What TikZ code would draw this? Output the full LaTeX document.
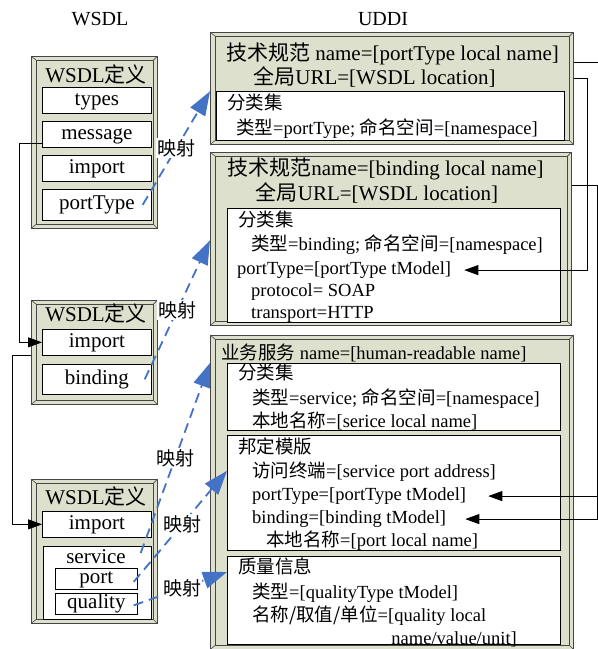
\documentclass[tikz,border=0pt]{standalone}
\usepackage{fontspec}
\setmainfont{Liberation Serif}
\newfontfamily\cjkf{Noto Sans CJK SC}
\newcommand\zh[1]{{\cjkf #1}}
\usetikzlibrary{arrows.meta}
\definecolor{face}{RGB}{221,224,204}
\definecolor{bline}{RGB}{70,70,70}
\definecolor{mapblue}{RGB}{68,114,196}
\begin{document}
\begin{tikzpicture}[x=1pt,y=-1pt,
  bevel/.style={draw=bline, fill=face, line width=0.6pt, inner sep=0pt, anchor=north west,
    path picture={
      \draw[bline, line width=0.6pt]
        ([shift={(5pt,-4pt)}]path picture bounding box.north west) rectangle ([shift={(-4pt,4pt)}]path picture bounding box.south east);
      \draw[bline, line width=0.6pt]
        (path picture bounding box.north west) -- ++(5pt,-4pt)
        (path picture bounding box.north east) -- ++(-4pt,-4pt)
        (path picture bounding box.south west) -- ++(5pt,4pt)
        (path picture bounding box.south east) -- ++(-4pt,4pt);
    }},
  wbox/.style={draw=black, fill=white, line width=0.7pt, inner sep=0pt, anchor=north west},
  lbox/.style={wbox, font=\fontsize{21}{25}\selectfont, text height=1em, text depth=0em},
  hd/.style={anchor=base, inner sep=0pt, yshift=-7.5pt, font=\fontsize{21}{25}\selectfont},
  body/.style={anchor=base west, inner sep=0pt, yshift=-6.5pt, font=\fontsize{18.5}{22}\selectfont},
  conn/.style={draw=black, line width=0.8pt, -{Triangle[length=14pt,width=10pt]}},
  map/.style={draw=mapblue, line width=1.8pt, dash pattern=on 10pt off 6pt, -{Triangle[length=24pt,width=17pt]}},
  lbl/.style={fill=white, inner sep=1pt, text=black, font=\fontsize{19}{22}\selectfont\cjkf}
]
\useasboundingbox (0,0) rectangle (598,649);
\clip (0,0) rectangle (598,649);

% headers
\node[hd, font=\fontsize{20}{24}\selectfont] (hw) at (100,18) {WSDL};
\node[hd, font=\fontsize{20}{24}\selectfont] (hu) at (383,18) {UDDI};

% ---------- WSDL box 1
\node[bevel, minimum width=126pt, minimum height=172pt] (w1) at (31,56) {};
\node[hd] (w1t) at (96,75) {WSDL\zh{定义}};
\node[lbox, minimum width=109pt, minimum height=26pt] (types) at (42,87) {types};
\node[lbox, minimum width=109pt, minimum height=26pt] (msg) at (42,121) {message};
\node[lbox, minimum width=109pt, minimum height=26pt] (imp1) at (42,155) {import};
\node[lbox, minimum width=109pt, minimum height=31pt] (ptype) at (42,189) {portType};

% ---------- WSDL box 2
\node[bevel, minimum width=126pt, minimum height=104pt] (w2) at (31,300) {};
\node[hd] (w2t) at (96,314) {WSDL\zh{定义}};
\node[lbox, minimum width=109pt, minimum height=26pt] (imp2) at (42,329) {import};
\node[lbox, minimum width=109pt, minimum height=30pt] (bind) at (42,364) {binding};

% ---------- WSDL box 3
\node[bevel, minimum width=126pt, minimum height=144pt] (w3) at (31,479) {};
\node[hd] (w3t) at (96,497) {WSDL\zh{定义}};
\node[lbox, minimum width=109pt, minimum height=26pt] (imp3) at (42,511) {import};
\node[wbox, minimum width=108pt, minimum height=73pt] (svc) at (43,546) {};
\node[hd] (svct) at (96,556) {service};
\node[lbox, minimum width=82pt, minimum height=21pt] (port) at (55,568) {port};
\node[lbox, minimum width=82pt, minimum height=21pt] (qual) at (55,593) {quality};

% ---------- UDDI box 1
\node[bevel, minimum width=363pt, minimum height=112pt] (u1) at (210,32) {};
\node[hd] (u1t1) at (392.5,53) {\zh{技术规范} name=[portType local name]};
\node[hd] (u1t2) at (374.5,77) {\zh{全局}URL=[WSDL location]};
\node[wbox, minimum width=348pt, minimum height=49pt] (u1i) at (216,91) {};
\node[body] (u1a) at (227,103) {\zh{分类集}};
\node[body] (u1b) at (236,128) {\zh{类型}=portType; \zh{命名空间}=[namespace]};

% ---------- UDDI box 2
\node[bevel, minimum width=361pt, minimum height=173pt] (u2) at (210,152) {};
\node[hd] (u2t1) at (385.5,168) {\zh{技术规范}name=[binding local name]};
\node[hd] (u2t2) at (377,193) {\zh{全局}URL=[WSDL location]};
\node[wbox, minimum width=333pt, minimum height=114pt] (u2i) at (227,208) {};
\node[body] (u2a) at (238,220) {\zh{分类集}};
\node[body] (u2b) at (251,244) {\zh{类型}=binding; \zh{命名空间}=[namespace]};
\node[body] (pt2) at (237,268) {portType=[portType tModel]};
\node[body] (u2d) at (251,290) {protocol= SOAP};
\node[body] (u2e) at (251,312) {transport=HTTP};

% ---------- UDDI box 3
\node[bevel, minimum width=363pt, minimum height=314pt] (u3) at (210,335) {};
\node[body] (u3t) at (221,353) {\zh{业务服务} name=[human-readable name]};
\node[wbox, minimum width=333pt, minimum height=67pt] (ua) at (227,363) {};
\node[body] (uaa) at (238,373) {\zh{分类集}};
\node[body] (uab) at (252,398) {\zh{类型}=service; \zh{命名空间}=[namespace]};
\node[body] (uac) at (252,421) {\zh{本地名称}=[serice local name]};
\node[wbox, minimum width=333pt, minimum height=115pt] (ub) at (227,435) {};
\node[body] (uba) at (238,447) {\zh{邦定模版}};
\node[body] (ubb) at (252,471) {\zh{访问终端}=[service port address]};
\node[body] (pt3) at (252,494) {portType=[portType tModel]};
\node[body] (bd3) at (252,517) {binding=[binding tModel]};
\node[body] (ube) at (266,540) {\zh{本地名称}=[port local name]};
\node[wbox, minimum width=333pt, minimum height=88pt] (uc) at (227,556) {};
\node[body] (uca) at (238,567) {\zh{质量信息}};
\node[body] (ucb) at (252,592) {\zh{类型}=[qualityType tModel]};
\node[body] (ucc) at (252,615) {\zh{名称/取值/单位}=[quality local};
\node[body, anchor=base east] (ucd) at (517,638) {name/value/unit]};

% ---------- black connectors
\draw[conn] ([yshift=-9pt]msg.west) -- ++(-23,0) |- (imp2.west);
\draw[conn] ([yshift=-3pt]w2.west) -- ++(-19,0) |- (imp3.west);
\draw[conn] ([yshift=26pt]u1.east) -- ++(26,0) |- ([xshift=22pt]pt3.east);
\draw[conn] ([yshift=10pt]u1.east) -- ++(14,0) |- ([xshift=13pt]pt2.east);
\draw[conn] ([yshift=53.5pt]u2.east) -- ++(26,0) |- ([xshift=19pt]bd3.east);

% ---------- blue mapping arrows
\draw[map] ([xshift=-9pt]ptype.east) -- node[lbl, pos=.5] (m1) {映射} ([yshift=-3pt]u1.west);
\draw[map] ([xshift=-7pt]bind.east) -- node[lbl, pos=.5] (m2) {映射} ([yshift=-1.5pt]u2.west);
\draw[map] ([shift={(-11pt,-7pt)}]svc.north east) -- node[lbl, pos=.5] (m3) {映射} ([yshift=-28pt]u3.north west);
\draw[map] ([shift={(-4pt,-3pt)}]port.east) -- node[lbl, pos=.52] (m4) {映射} ([yshift=22pt]ub.west);
\draw[map] ([shift={(-4pt,-1.5pt)}]qual.east) -- node[lbl, pos=.52] (m5) {映射} ([yshift=-16pt]uc.north west);
\end{tikzpicture}
\end{document}
